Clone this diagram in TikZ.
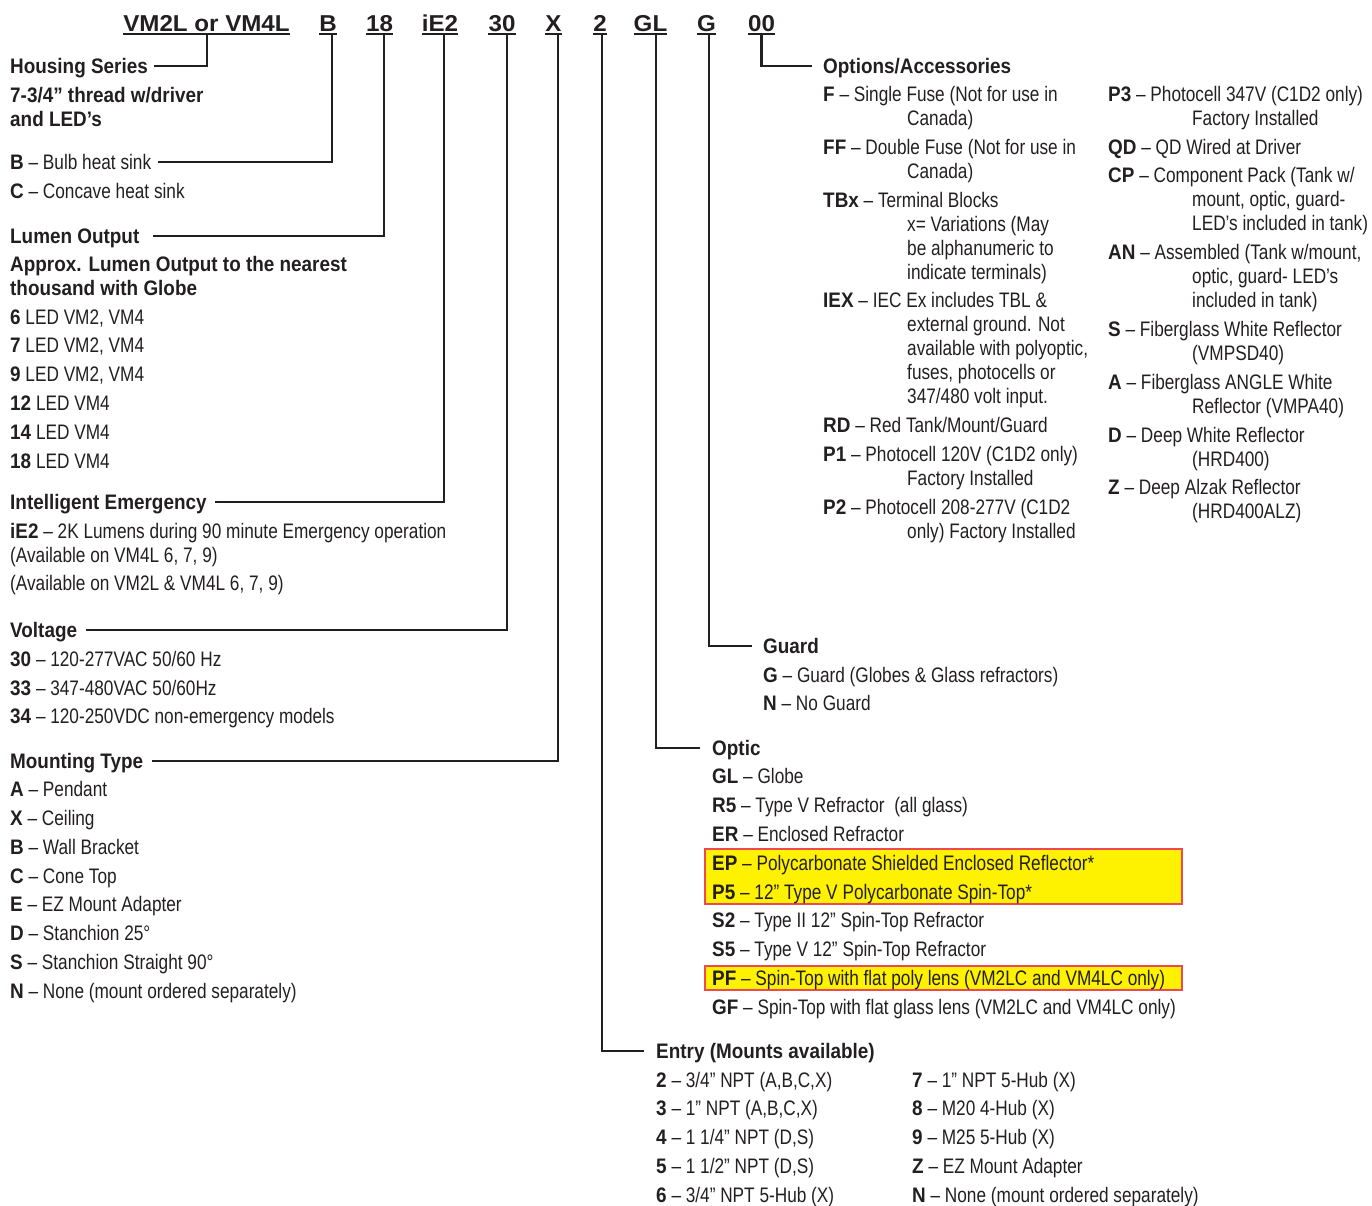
\documentclass[tikz,border=0pt]{standalone}
\usepackage{fontspec}
\setmainfont[FakeStretch=0.82,BoldFeatures={FakeStretch=0.9}]{Liberation Sans}
\newfontfamily\codefont[FakeStretch=1.05]{Liberation Sans}
\definecolor{ink}{RGB}{35,31,32}
\definecolor{hlfill}{RGB}{255,242,0}
\definecolor{hlline}{RGB}{238,72,80}

\begin{document}
\begin{tikzpicture}[
  x=1pt,y=-1pt,
  font=\fontsize{21}{24}\selectfont,
  code/.style={font=\codefont\bfseries\fontsize{23}{26}\selectfont,
    text=ink,inner sep=0pt,anchor=base,text depth=0pt},
  txt/.style={text=ink,inner sep=0pt,anchor=base west,align=left},
  bold/.style={font=\bfseries\fontsize{21}{24}\selectfont},
  head/.style={txt,bold,text height=15pt,text depth=0pt},
  hook/.style={text height=15pt,text depth=0pt},
  uline/.style={line width=1.8pt,ink},
  lead/.style={line width=2.6pt,ink},
  hilite/.style={fill=hlfill,draw=hlline,line width=1.4pt}
]
  \useasboundingbox (0,0) rectangle (1372,1205);

  % catalogue number
  \node[code] (cVM) at (206.5,31) {VM2L or VM4L};
  \node[code] (cB) at (328,31) {B};
  \node[code] (cLm) at (379.5,31) {18};
  \node[code] (cIE) at (440,31) {iE2};
  \node[code] (cV) at (502,31) {30};
  \node[code] (cM) at (553.5,31) {X};
  \node[code] (cE) at (600,31) {2};
  \node[code] (cO) at (650.5,31) {GL};
  \node[code] (cG) at (706.5,31) {G};
  \node[code] (cAcc) at (761.5,31) {00};
  \foreach \c in {cVM,cB,cLm,cIE,cV,cM,cE,cO,cG,cAcc}
    \draw[uline] ([yshift=-2.5pt]\c.south west) -- ([yshift=-2.5pt]\c.south east);

  % left column (multi-line nodes sit on their last baseline)
  \node[head] (hHousing) at (10,73.5) {Housing Series};
  \node[txt,bold] (housing) at (10,126.5)
    {7-3/4” thread w/driver\\and LED’s};
  \node[txt,hook] (iB) at (10,169.5) {\textbf{B} – Bulb heat sink};
  \node[txt] (iC) at (10,198.5) {\textbf{C} – Concave heat sink};

  \node[head] (hLumen) at (10,243.5) {Lumen Output};
  \node[txt,bold] (lumen) at (10,295.5)
    {Approx. Lumen Output to the nearest\\thousand with Globe};
  \node[txt] (l6) at (10,324.5) {\textbf{6} LED VM2, VM4};
  \node[txt] (l7) at (10,352.5) {\textbf{7} LED VM2, VM4};
  \node[txt] (l9) at (10,381.5) {\textbf{9} LED VM2, VM4};
  \node[txt] (l12) at (10,410.5) {\textbf{12} LED VM4};
  \node[txt] (l14) at (10,439.5) {\textbf{14} LED VM4};
  \node[txt] (l18) at (10,468.5) {\textbf{18} LED VM4};

  \node[head] (hEmerg) at (10,509.5) {Intelligent Emergency};
  \node[txt] (e1) at (10,562.5)
    {\textbf{iE2} – 2K Lumens during 90 minute Emergency operation\\(Available on VM4L 6, 7, 9)};
  \node[txt] (e2) at (10,590.5) {(Available on VM2L \& VM4L 6, 7, 9)};

  \node[head] (hVolt) at (10,637.5) {Voltage};
  \node[txt] (v30) at (10,666.5) {\textbf{30} – 120-277VAC 50/60 Hz};
  \node[txt] (v33) at (10,695.5) {\textbf{33} – 347-480VAC 50/60Hz};
  \node[txt] (v34) at (10,723.5) {\textbf{34} – 120-250VDC non-emergency models};

  \node[head] (hMount) at (10,768.5) {Mounting Type};
  \node[txt] (mA) at (10,796.5) {\textbf{A} – Pendant};
  \node[txt] (mX) at (10,825.5) {\textbf{X} – Ceiling};
  \node[txt] (mB) at (10,854.5) {\textbf{B} – Wall Bracket};
  \node[txt] (mC) at (10,883.5) {\textbf{C} – Cone Top};
  \node[txt] (mE) at (10,911.5) {\textbf{E} – EZ Mount Adapter};
  \node[txt] (mD) at (10,940.5) {\textbf{D} – Stanchion 25°};
  \node[txt] (mS) at (10,969.5) {\textbf{S} – Stanchion Straight 90°};
  \node[txt] (mN) at (10,998.5) {\textbf{N} – None (mount ordered separately)};

  % options / accessories
  \node[head] (hAcc) at (823,73.5) {Options/Accessories};
  \node[txt] (aF) at (823,125.5)
    {\textbf{F} – Single Fuse (Not for use in\\\hspace*{84pt}Canada)};
  \node[txt] (aFF) at (823,178.5)
    {\textbf{FF} – Double Fuse (Not for use in\\\hspace*{84pt}Canada)};
  \node[txt] (aTB) at (823,279.5)
    {\textbf{TBx} – Terminal Blocks\\\hspace*{84pt}x= Variations (May\\
     \hspace*{84pt}be alphanumeric to\\\hspace*{84pt}indicate terminals)};
  \node[txt] (aIEX) at (823,403.5)
    {\textbf{IEX} – IEC Ex includes TBL \&\\\hspace*{84pt}external ground. Not\\
     \hspace*{84pt}available with polyoptic,\\\hspace*{84pt}fuses, photocells or\\
     \hspace*{84pt}347/480 volt input.};
  \node[txt] (aRD) at (823,432.5) {\textbf{RD} – Red Tank/Mount/Guard};
  \node[txt] (aP1) at (823,485.5)
    {\textbf{P1} – Photocell 120V (C1D2 only)\\\hspace*{84pt}Factory Installed};
  \node[txt] (aP2) at (823,538.5)
    {\textbf{P2} – Photocell 208-277V (C1D2\\\hspace*{84pt}only) Factory Installed};

  \node[txt] (aP3) at (1108,125.5)
    {\textbf{P3} – Photocell 347V (C1D2 only)\\\hspace*{84pt}Factory Installed};
  \node[txt] (aQD) at (1108,154.5) {\textbf{QD} – QD Wired at Driver};
  \node[txt] (aCP) at (1108,230.5)
    {\textbf{CP} – Component Pack (Tank w/\\\hspace*{84pt}mount, optic, guard-\\
     \hspace*{84pt}LED’s included in tank)};
  \node[txt] (aAN) at (1108,307.5)
    {\textbf{AN} – Assembled (Tank w/mount,\\\hspace*{84pt}optic, guard- LED’s\\
     \hspace*{84pt}included in tank)};
  \node[txt] (aS) at (1108,360.5)
    {\textbf{S} – Fiberglass White Reflector\\\hspace*{84pt}(VMPSD40)};
  \node[txt] (aA) at (1108,413.5)
    {\textbf{A} – Fiberglass ANGLE White\\\hspace*{84pt}Reflector (VMPA40)};
  \node[txt] (aD) at (1108,466.5)
    {\textbf{D} – Deep White Reflector\\\hspace*{84pt}(HRD400)};
  \node[txt] (aZ) at (1108,518.5)
    {\textbf{Z} – Deep Alzak Reflector\\\hspace*{84pt}(HRD400ALZ)};

  % guard
  \node[head] (hGuard) at (763,653.5) {Guard};
  \node[txt] (gG) at (763,682.5) {\textbf{G} – Guard (Globes \& Glass refractors)};
  \node[txt] (gN) at (763,710.5) {\textbf{N} – No Guard};

  % optic
  \draw[hilite] (705,849) rectangle (1182,904);
  \draw[hilite] (705,966) rectangle (1182,990);
  \node[head] (hOptic) at (712,755.5) {Optic};
  \node[txt] (oGL) at (712,783.5) {\textbf{GL} – Globe};
  \node[txt] (oR5) at (712,812.5) {\textbf{R5} – Type V Refractor\ \ (all glass)};
  \node[txt] (oER) at (712,841.5) {\textbf{ER} – Enclosed Refractor};
  \node[txt] (oEP) at (712,870.5) {\textbf{EP} – Polycarbonate Shielded Enclosed Reflector*};
  \node[txt] (oP5) at (712,899.5) {\textbf{P5} – 12” Type V Polycarbonate Spin-Top*};
  \node[txt] (oS2) at (712,927.5) {\textbf{S2} – Type II 12” Spin-Top Refractor};
  \node[txt] (oS5) at (712,956.5) {\textbf{S5} – Type V 12” Spin-Top Refractor};
  \node[txt] (oPF) at (712,985.5) {\textbf{PF} – Spin-Top with flat poly lens (VM2LC and VM4LC only)};
  \node[txt] (oGF) at (712,1014.5) {\textbf{GF} – Spin-Top with flat glass lens (VM2LC and VM4LC only)};

  % entry
  \node[head] (hEntry) at (656,1058.5) {Entry (Mounts available)};
  \node[txt] (n2) at (656,1087.5) {\textbf{2} – 3/4” NPT (A,B,C,X)};
  \node[txt] (n3) at (656,1115.5) {\textbf{3} – 1” NPT (A,B,C,X)};
  \node[txt] (n4) at (656,1144.5) {\textbf{4} – 1 1/4” NPT (D,S)};
  \node[txt] (n5) at (656,1173.5) {\textbf{5} – 1 1/2” NPT (D,S)};
  \node[txt] (n6) at (656,1202.5) {\textbf{6} – 3/4” NPT 5-Hub (X)};
  \node[txt] (n7) at (912,1087.5) {\textbf{7} – 1” NPT 5-Hub (X)};
  \node[txt] (n8) at (912,1115.5) {\textbf{8} – M20 4-Hub (X)};
  \node[txt] (n9) at (912,1144.5) {\textbf{9} – M25 5-Hub (X)};
  \node[txt] (nZ) at (912,1173.5) {\textbf{Z} – EZ Mount Adapter};
  \node[txt] (nN) at (912,1202.5) {\textbf{N} – None (mount ordered separately)};

  % leaders
  \draw[lead] ([xshift=0.5pt,yshift=-2pt]cVM.south) |- ([xshift=6pt]hHousing.east);
  \draw[lead] ([xshift=4pt,yshift=-2pt]cB.south) |- ([xshift=7pt]iB.east);
  \draw[lead] ([xshift=4.5pt,yshift=-2pt]cLm.south) |- ([xshift=13pt]hLumen.east);
  \draw[lead] ([xshift=4pt,yshift=-2pt]cIE.south) |- ([xshift=8pt]hEmerg.east);
  \draw[lead] ([xshift=5pt,yshift=-2pt]cV.south) |- ([xshift=9pt]hVolt.east);
  \draw[lead] ([xshift=4.5pt,yshift=-2pt]cM.south) |- ([xshift=9pt]hMount.east);
  \draw[lead] ([xshift=2pt,yshift=-2pt]cE.south) |- ([xshift=-12pt]hEntry.west);
  \draw[lead] ([xshift=5.5pt,yshift=-2pt]cO.south) |- ([xshift=-12pt]hOptic.west);
  \draw[lead] ([xshift=2.5pt,yshift=-2pt]cG.south) |- ([xshift=-11pt]hGuard.west);
  \draw[lead] ([yshift=-2pt]cAcc.south) |- ([xshift=-11pt]hAcc.west);
\end{tikzpicture}
\end{document}
